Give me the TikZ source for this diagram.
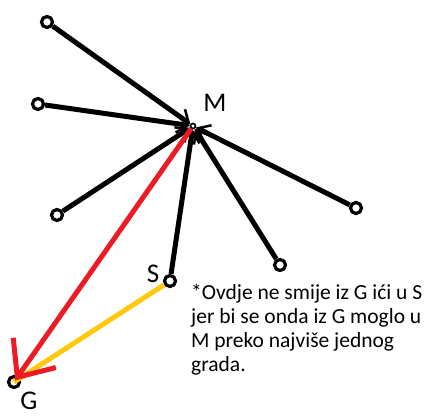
\documentclass[tikz,border=0pt]{standalone}
\usepackage{fontspec}
\setmainfont{Carlito}
\usepackage{tikz}
\usetikzlibrary{arrows.meta, positioning}
\definecolor{colRed}   {HTML}{ED1C24}
\definecolor{colYellow}{HTML}{FFC90E}
\tikzset{
  city/.style={
    draw=black, fill=white, circle, line width=3.2pt,
    minimum size=11pt, inner sep=0pt
  },
  hub/.style={
    draw=black, fill=white, circle, line width=1.6pt,
    minimum size=5pt, inner sep=0pt
  },
  road/.style={
    -{Straight Barb[length=11pt,width=18pt,line width=2.5pt]},
    line width=5pt, draw=black
  },
  redarr/.style={
    -{Straight Barb[length=30pt,width=52pt,line width=5pt]},
    line width=5pt, draw=colRed, shorten >=2pt
  },
  yelarr/.style={
    line width=5pt, draw=colYellow
  },
  lbl/.style={font=\fontsize{27}{30}\selectfont, inner sep=0pt}
}

\begin{document}
\begin{tikzpicture}[x=1pt, y=-1pt]
        \useasboundingbox (0,0) rectangle (427,419);
        % cities
        \node[hub]  (m)  at (193,126) {};
        \node[city] (c1) at (47,22)   {};
        \node[city] (c2) at (38,104)  {};
        \node[city] (c3) at (57,215)  {};
        \node[city] (c4) at (356,208) {};
        \node[city] (c5) at (280,265) {};
        \node[city] (s)  at (170,281) {};
        \node[city] (g)  at (14,382)  {};
        % labels
        \node[lbl] (mlbl) at (215,103) {M};
        \node[lbl] (slbl) at (153,274) {S};
        \node[lbl] (glbl) at (29,401)  {G};
        % roads into M
        \draw[road](c1)--(m); \draw[road](c2)--(m);
        \draw[road](c3)--(m); \draw[road](c4)--(m);
        \draw[road](c5)--(m); \draw[road](s)--(m);
        \draw[yelarr](s)--(g.center);
        \draw[redarr](m)--(g.center);
        \node[lbl, anchor=north west, align=left, font=\fontsize{21.5}{24}\selectfont] (note) at (191,284)
          {*Ovdje ne smije iz G ići u S\\jer bi se onda iz G moglo u\\M preko najviše jednog\\grada.};
      \end{tikzpicture}
\end{document}
